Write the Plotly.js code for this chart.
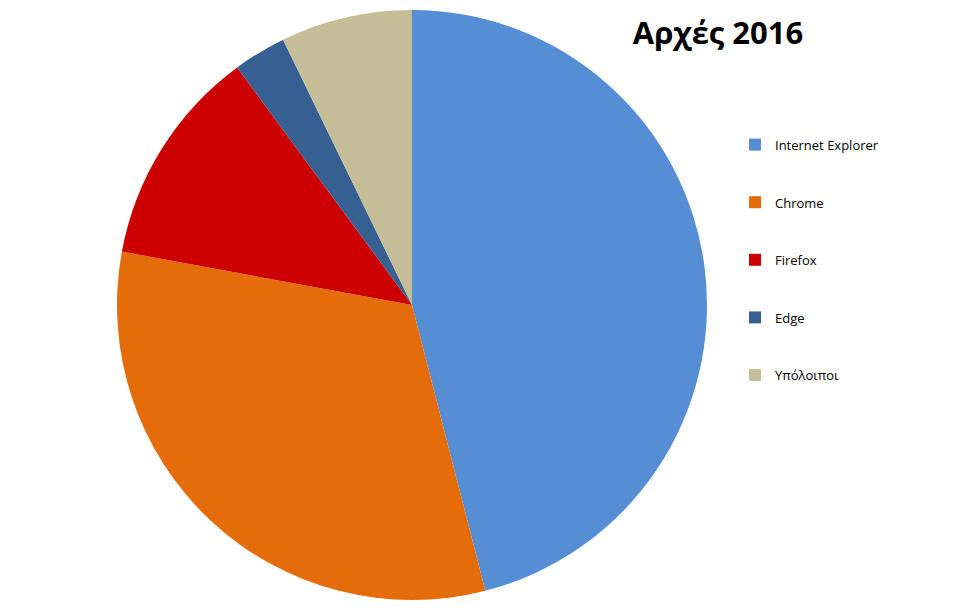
<!DOCTYPE html>
<html>
<head>
<meta charset="utf-8">
<script src="https://cdn.plot.ly/plotly-3.0.1.min.js"></script>
<style>html,body{margin:0;padding:0;background:#fff;}#chart{width:960px;height:610px;}</style>
</head>
<body>
<div id="chart"></div>
<script>
// Data
const categories = ["Internet Explorer", "Chrome", "Firefox", "Edge", "Υπόλοιποι"];
const shares = [46.0, 31.9, 12.0, 2.9, 7.2];
const colors = ["#558ED5", "#E46C0A", "#CC0000", "#376092", "#C4BD97"];
const chartTitle = "Αρχές 2016";

// legend labels: extra blank lines give the wide vertical spacing of the original legend
const legendLabels = categories.map(c => '<span style="font-size:13px">' + c + '</span><br> <br> ');

const trace = {
  type: 'pie',
  labels: legendLabels,
  values: shares,
  sort: false,
  direction: 'clockwise',
  rotation: 0,
  textinfo: 'none',
  hoverinfo: 'skip',
  marker: {colors: colors, line: {width: 0}},
  domain: {x: [117/960, 707/960], y: [10/610, 600/610]}
};

const layout = {
  width: 960, height: 610,
  margin: {l: 0, r: 0, t: 0, b: 0},
  paper_bgcolor: '#ffffff',
  font: {family: '"Open Sans", sans-serif', color: '#000000'},
  title: {
    text: '<b>' + chartTitle + '</b>',
    font: {family: '"Open Sans", sans-serif', size: 31, color: '#000000'},
    x: 718/960, xanchor: 'center', xref: 'paper',
    y: 1 - 33/610, yanchor: 'middle', yref: 'paper'
  },
  showlegend: true,
  legend: {
    x: 735/960, xanchor: 'left',
    y: 1 - 129/610, yanchor: 'top',
    font: {family: '"Open Sans", sans-serif', size: 14, color: '#000000'},
    valign: 'top',
    bgcolor: 'rgba(0,0,0,0)',
    borderwidth: 0
  }
};

Plotly.newPlot('chart', [trace], layout, {displayModeBar: false, staticPlot: true});
</script>
</body>
</html>
